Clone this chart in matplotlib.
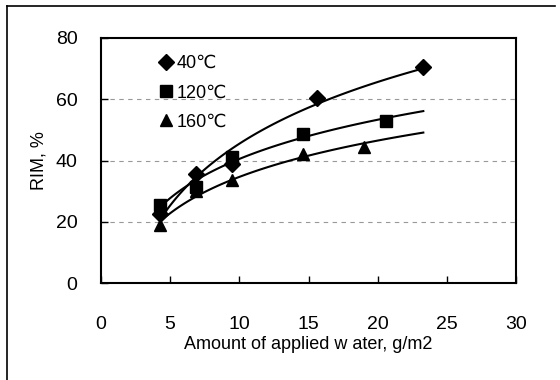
import numpy as np
import matplotlib
matplotlib.use("Agg")
import matplotlib.pyplot as plt
from matplotlib.lines import Line2D

plt.rcParams['font.family'] = ['Liberation Sans', 'DejaVu Sans']

# data
x40 = [4.3, 6.9, 9.5, 15.6, 23.3]
y40 = [22.5, 35.5, 39.0, 60.5, 70.6]
x120 = [4.3, 6.9, 9.5, 14.6, 20.6]
y120 = [25.5, 31.5, 41.0, 48.5, 53.0]
x160 = [4.3, 6.9, 9.5, 14.6, 19.0]
y160 = [19.0, 30.0, 33.5, 42.0, 44.5]
labels = ['40\u2103', '120\u2103', '160\u2103']
markers = ['D', 's', '^']

xticks = [0, 5, 10, 15, 20, 25, 30]
yticks = [0, 20, 40, 60, 80]

fig = plt.figure(figsize=(5.6, 3.8), dpi=100)
ax = fig.add_axes([101/560, 1-283/380, 415/560, 245/380])

series = [(x40, y40), (x120, y120), (x160, y160)]
xall = np.concatenate([x40, x120, x160])
xfit = np.linspace(xall.min(), xall.max(), 100)

handles = []
for (xs, ys), lab, mk in zip(series, labels, markers):
    xs = np.array(xs); ys = np.array(ys)
    # logarithmic trend line (excel style)
    k, c = np.polyfit(np.log(xs), ys, 1)
    ax.plot(xfit, k * np.log(xfit) + c, color='black', lw=1.5)
    ms = 8 if mk == 'D' else 9
    h, = ax.plot(xs, ys, linestyle='none', marker=mk, color='black', ms=ms)
    handles.append(h)

ax.set_xlim(0, 30)
ax.set_ylim(0, 80)
ax.set_xticks(xticks)
ax.set_yticks(yticks)
ax.tick_params(direction='in', length=5, width=1, labelsize=14)
ax.tick_params(axis='x', pad=24)
ax.tick_params(axis='y', pad=17)
for s in ax.spines.values():
    s.set_linewidth(1.5)

for yv in [20, 40, 60]:
    ax.axhline(yv, color='#999999', lw=0.8, ls=(0, (4, 4)), zorder=0)

ax.set_xlabel('Amount of applied w ater, g/m2', fontsize=13, labelpad=2)
ax.set_ylabel('RIM, %', fontsize=13, labelpad=6)

ax.legend(handles, labels, loc='upper left', frameon=False, fontsize=13,
          handlelength=0.6, handletextpad=0.3, labelspacing=0.68,
          bbox_to_anchor=(0.125, 0.96), borderaxespad=0)

# scanned outer frame (left and top edges)
fig.add_artist(Line2D([7/560, 7/560], [0, 1-6/380], color='black', lw=1.2))
fig.add_artist(Line2D([7/560, 555/560], [1-6/380, 1-6/380], color='black', lw=1.2))

fig.savefig('out.png', dpi=100)
